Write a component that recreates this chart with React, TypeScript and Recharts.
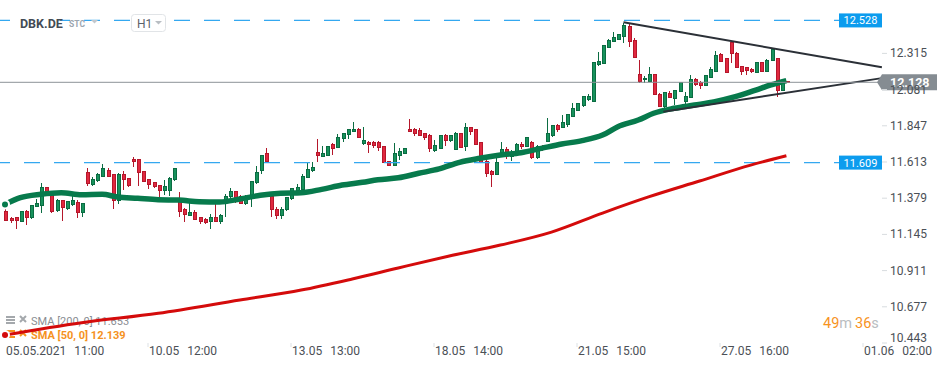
import React from "react"
import { ComposedChart, Bar, Line, XAxis, YAxis, ReferenceLine } from "recharts"

const FONT = "Roboto, 'Noto Sans', sans-serif"
const W = 950
const H = 368

// hourly candles, 05.05.2021 11:00 onwards
const OPEN = [
  11.292, 11.249, 11.251, 11.231, 11.294, 11.251, 11.324, 11.333, 11.449, 11.395,
  11.298, 11.361, 11.315, 11.341, 11.352, 11.285, 11.546, 11.466, 11.492, 11.522,
  11.561, 11.529, 11.367, 11.529, 11.507, 11.632, 11.630, 11.553, 11.497, 11.482,
  11.464, 11.427, 11.427, 11.497, 11.356, 11.303, 11.270, 11.288, 11.251, 11.240,
  11.227, 11.255, 11.227, 11.356, 11.389, 11.419, 11.389, 11.346, 11.374, 11.482,
  11.557, 11.665, 11.393, 11.309, 11.266, 11.303, 11.378, 11.427, 11.436, 11.514,
  11.561, 11.676, 11.647, 11.658, 11.723, 11.705, 11.763, 11.789, 11.809, 11.826,
  11.731, 11.742, 11.742, 11.742, 11.714, 11.619, 11.593, 11.658, 11.666, 11.826,
  11.826, 11.815, 11.798, 11.787, 11.690, 11.703, 11.781, 11.755, 11.695, 11.800,
  11.712, 11.837, 11.820, 11.736, 11.619, 11.550, 11.533, 11.673, 11.695, 11.647,
  11.673, 11.729, 11.716, 11.736, 11.643, 11.713, 11.744, 11.781, 11.848, 11.835,
  11.858, 11.906, 11.949, 11.975, 12.014, 12.007, 12.240, 12.251, 12.352, 12.390,
  12.406, 12.423, 12.487, 12.401, 12.180, 12.143, 12.136, 12.180, 12.052, 11.970,
  12.057, 12.025, 12.067, 12.003, 12.031, 12.149, 12.125, 12.106, 12.160, 12.197,
  12.309, 12.279, 12.384, 12.315, 12.229, 12.225, 12.212, 12.193, 12.257, 12.197,
  12.272, 12.279, 12.078, 12.131,
]
const HIGH = [
  11.307, 11.259, 11.259, 11.298, 11.303, 11.335, 11.372, 11.475, 11.453, 11.400,
  11.372, 11.367, 11.363, 11.393, 11.367, 11.350, 11.572, 11.518, 11.540, 11.600,
  11.572, 11.533, 11.540, 11.557, 11.511, 11.647, 11.632, 11.557, 11.497, 11.485,
  11.464, 11.497, 11.518, 11.572, 11.421, 11.313, 11.346, 11.303, 11.259, 11.249,
  11.275, 11.339, 11.277, 11.406, 11.443, 11.425, 11.400, 11.400, 11.492, 11.587,
  11.660, 11.703, 11.400, 11.320, 11.320, 11.389, 11.447, 11.471, 11.533, 11.608,
  11.615, 11.762, 11.714, 11.716, 11.738, 11.796, 11.798, 11.824, 11.873, 11.831,
  11.841, 11.751, 11.749, 11.749, 11.718, 11.619, 11.738, 11.701, 11.705, 11.891,
  11.835, 11.831, 11.800, 11.792, 11.755, 11.787, 11.794, 11.787, 11.805, 11.802,
  11.865, 11.841, 11.824, 11.740, 11.637, 11.561, 11.637, 11.740, 11.712, 11.690,
  11.734, 11.740, 11.776, 11.749, 11.723, 11.723, 11.899, 11.846, 11.858, 11.917,
  11.921, 11.996, 11.992, 12.039, 12.052, 12.261, 12.326, 12.367, 12.406, 12.451,
  12.440, 12.509, 12.505, 12.412, 12.272, 12.171, 12.225, 12.182, 12.057, 12.067,
  12.072, 12.078, 12.128, 12.067, 12.175, 12.158, 12.136, 12.175, 12.225, 12.330,
  12.315, 12.283, 12.390, 12.322, 12.235, 12.229, 12.219, 12.261, 12.261, 12.277,
  12.343, 12.283, 12.132, 12.134,
]
const LOW = [
  11.231, 11.217, 11.182, 11.227, 11.208, 11.244, 11.324, 11.285, 11.417, 11.285,
  11.292, 11.233, 11.303, 11.328, 11.253, 11.259, 11.458, 11.458, 11.485, 11.518,
  11.514, 11.309, 11.339, 11.432, 11.453, 11.579, 11.458, 11.482, 11.436, 11.447,
  11.389, 11.398, 11.393, 11.490, 11.259, 11.227, 11.266, 11.238, 11.210, 11.210,
  11.178, 11.223, 11.212, 11.259, 11.378, 11.346, 11.341, 11.333, 11.324, 11.469,
  11.535, 11.615, 11.259, 11.242, 11.246, 11.298, 11.367, 11.421, 11.427, 11.507,
  11.550, 11.615, 11.643, 11.654, 11.658, 11.701, 11.740, 11.762, 11.805, 11.768,
  11.723, 11.673, 11.705, 11.686, 11.604, 11.593, 11.593, 11.626, 11.663, 11.805,
  11.781, 11.781, 11.755, 11.679, 11.679, 11.697, 11.718, 11.744, 11.690, 11.701,
  11.684, 11.787, 11.723, 11.604, 11.518, 11.449, 11.529, 11.669, 11.630, 11.621,
  11.669, 11.697, 11.712, 11.630, 11.630, 11.684, 11.740, 11.776, 11.809, 11.831,
  11.837, 11.902, 11.944, 11.970, 12.009, 12.003, 12.233, 12.246, 12.348, 12.387,
  12.401, 12.384, 12.358, 12.287, 12.122, 12.122, 12.132, 12.046, 11.966, 11.949,
  12.025, 11.981, 12.063, 11.964, 12.028, 12.106, 12.085, 12.104, 12.154, 12.193,
  12.257, 12.188, 12.251, 12.222, 12.175, 12.175, 12.186, 12.190, 12.197, 12.193,
  12.268, 12.031, 12.074, 12.125,
]
const CLOSE = [
  11.238, 11.233, 11.233, 11.294, 11.253, 11.330, 11.346, 11.449, 11.417, 11.296,
  11.361, 11.317, 11.356, 11.361, 11.285, 11.346, 11.471, 11.501, 11.531, 11.568,
  11.518, 11.367, 11.535, 11.501, 11.460, 11.613, 11.544, 11.485, 11.466, 11.453,
  11.427, 11.453, 11.509, 11.568, 11.292, 11.275, 11.288, 11.242, 11.227, 11.223,
  11.255, 11.227, 11.270, 11.393, 11.419, 11.374, 11.346, 11.385, 11.485, 11.546,
  11.656, 11.615, 11.307, 11.266, 11.307, 11.385, 11.440, 11.445, 11.522, 11.566,
  11.580, 11.654, 11.671, 11.716, 11.701, 11.772, 11.794, 11.820, 11.826, 11.774,
  11.749, 11.725, 11.721, 11.705, 11.611, 11.593, 11.669, 11.679, 11.701, 11.809,
  11.798, 11.787, 11.772, 11.697, 11.718, 11.781, 11.755, 11.781, 11.798, 11.708,
  11.839, 11.809, 11.727, 11.611, 11.540, 11.529, 11.608, 11.695, 11.669, 11.673,
  11.727, 11.712, 11.770, 11.643, 11.716, 11.697, 11.794, 11.846, 11.826, 11.867,
  11.917, 11.960, 11.988, 12.035, 12.039, 12.257, 12.261, 12.363, 12.401, 12.416,
  12.434, 12.492, 12.390, 12.290, 12.132, 12.154, 12.180, 12.050, 11.970, 12.063,
  12.028, 12.078, 12.125, 12.039, 12.149, 12.115, 12.106, 12.171, 12.208, 12.304,
  12.261, 12.193, 12.311, 12.225, 12.201, 12.203, 12.197, 12.257, 12.201, 12.272,
  12.337, 12.078, 12.126, 12.128,
]

// moving averages at these candle positions
const SMA50_AT = [0, 3, 7, 11, 15, 19, 22, 26, 30, 34, 38, 42, 46, 50, 54, 58, 62, 66, 70, 73, 77, 81, 85, 89, 93, 97, 101, 105, 109, 113, 117, 120, 124, 127, 131, 135, 139, 143, 147, 150, 153]
const SMA50 = [11.339, 11.382, 11.404, 11.414, 11.401, 11.404, 11.387, 11.378, 11.369, 11.367, 11.356, 11.354, 11.374, 11.398, 11.411, 11.414, 11.436, 11.464, 11.482, 11.498, 11.511, 11.540, 11.568, 11.611, 11.637, 11.658, 11.673, 11.701, 11.729, 11.751, 11.787, 11.841, 11.884, 11.928, 11.960, 11.981, 12.003, 12.035, 12.078, 12.111, 12.139]
const SMA200_AT = [0, 15, 30, 46, 58, 68, 77, 87, 97, 107, 117, 126, 136, 146, 153]
const SMA200 = [10.495, 10.574, 10.635, 10.721, 10.785, 10.857, 10.928, 11.005, 11.076, 11.160, 11.283, 11.387, 11.490, 11.593, 11.653]

const Y_TICKS = [10.443, 10.677, 10.911, 11.145, 11.379, 11.613, 11.847, 12.081, 12.315]
const X_TICKS = [0, 28, 56, 84, 112, 140, 168]
const X_DATES = ["05.05.2021", "10.05", "13.05", "18.05", "21.05", "27.05", "01.06"]
const X_TIMES = ["11:00", "12:00", "13:00", "14:00", "15:00", "16:00", "02:00"]

const LEVEL_HI = 12.528
const LEVEL_LO = 11.609
const LAST = 12.128
// triangle: [startIdx, startPrice, endIdx, endPrice]
const TREND_UPPER = [121.1, 12.516, 171.7, 12.225]
const TREND_LOWER = [128.9, 11.938, 171.7, 12.155]

const GREEN = "#17925c"
const GREEN_D = "#0b6c42"
const RED = "#e0283f"
const RED_D = "#b5172b"
const BLUE = "#34a8f0"
const BLUE_TAG = "#0c9cee"

const rows = OPEN.map((o, i) => ({
  i,
  o,
  h: HIGH[i],
  l: LOW[i],
  c: CLOSE[i],
  range: [LOW[i], HIGH[i]],
  sma50: null as number | null,
  sma200: null as number | null,
}))
SMA50_AT.forEach((at, k) => { rows[at].sma50 = SMA50[k] })
SMA200_AT.forEach((at, k) => { rows[at].sma200 = SMA200[k] })

// eslint-disable-next-line @typescript-eslint/no-explicit-any
function Candle(props: any) {
  const { x, y, width, height, payload } = props
  if (x == null || !payload) return null
  const { o, c, h, l } = payload
  const top = Math.min(y, y + height)
  const bot = Math.max(y, y + height)
  const span = h - l || 1e-6
  const yOf = (v: number) => top + ((h - v) / span) * (bot - top)
  const up = c >= o
  const cx = Math.round(x + width / 2)
  const bt = yOf(Math.max(o, c))
  const bb = yOf(Math.min(o, c))
  return (
    <g shapeRendering="crispEdges">
      <line x1={cx + 0.5} x2={cx + 0.5} y1={top} y2={bot} stroke={up ? GREEN_D : RED_D} strokeWidth={1} />
      <rect x={cx - 1} y={bt} width={3} height={Math.max(bb - bt, 1)}
        fill={up ? GREEN : RED} stroke={up ? GREEN_D : RED_D} strokeWidth={1} />
    </g>
  )
}

// eslint-disable-next-line @typescript-eslint/no-explicit-any
function XTick({ x, y, payload }: any) {
  const k = X_TICKS.indexOf(payload.value)
  if (k < 0) return null
  return (
    <g>
      {k > 0 && <line x1={x} x2={x} y1={y} y2={y + 4} stroke="#dde1e4" />}
      <text x={x + 1} y={y + 12} fontSize={12} fill="#4b5056" fontFamily={FONT}>
        {X_DATES[k]}<tspan dx={8}>{X_TIMES[k]}</tspan>
      </text>
    </g>
  )
}

// eslint-disable-next-line @typescript-eslint/no-explicit-any
function YTick({ x, y, payload }: any) {
  const bottom = payload.value === Y_TICKS[0]
  return (
    <g>
      <line x1={x} x2={x + 5} y1={y} y2={y} stroke="#d8dcdf" />
      <text x={x + 8} y={bottom ? y - 1 : y + 4} fontSize={12} fill="#4b5056" fontFamily={FONT}>
        {payload.value.toFixed(3)}
      </text>
    </g>
  )
}

// eslint-disable-next-line @typescript-eslint/no-explicit-any
function LevelTag({ viewBox, text }: any) {
  if (!viewBox) return null
  const right = viewBox.x + viewBox.width
  return (
    <g>
      <rect x={right - 43} y={viewBox.y - 7} width={43} height={14} fill={BLUE_TAG} />
      <text x={right - 21.5} y={viewBox.y + 4} textAnchor="middle" fontSize={11} fill="#fff" fontFamily={FONT}>{text}</text>
    </g>
  )
}

// eslint-disable-next-line @typescript-eslint/no-explicit-any
function PriceTag({ viewBox, text }: any) {
  if (!viewBox) return null
  const r = viewBox.x + viewBox.width
  const y = viewBox.y
  return (
    <g>
      <path d={`M${r - 5},${y} L${r},${y - 8} L${r + 55},${y - 8} L${r + 55},${y + 8} L${r},${y + 8} Z`} fill="#858c92" />
      <text x={r + 8} y={y + 4.5} fontSize={12.5} fontWeight={700} fill="#fff" fontFamily={FONT}>{text}</text>
    </g>
  )
}

function MenuIcon({ x, y, col }: { x: number; y: number; col: string }) {
  return (
    <g fill={col}>
      <rect x={x} y={y} width={9} height={2} />
      <rect x={x} y={y + 3} width={9} height={2} />
      <rect x={x} y={y + 6} width={9} height={2} />
      <path d={`M${x + 14},${y} l6,6 M${x + 20},${y} l-6,6`} stroke={col} strokeWidth={2} />
    </g>
  )
}

export default function App() {
  return (
    <div style={{ position: "absolute", left: 0, top: 0, width: W, height: H, background: "#fff", fontFamily: FONT }}>
      {/* indicator legend sits under the lines */}
      <svg width={W} height={H} style={{ position: "absolute", left: 0, top: 0 }}>
        <MenuIcon x={6} y={316} col="#a4a8ac" />
        <text x={31} y={325} fontSize={11} fill="#8a8e93" fontFamily={FONT}>SMA [200, 0] 11.653</text>
        <MenuIcon x={6} y={330} col="#f5921e" />
        <text x={31} y={338.5} fontSize={11} fontWeight={700} fill="#f5921e" fontFamily={FONT}>SMA [50, 0] 12.139</text>
      </svg>

      <div style={{ position: "absolute", left: 0, top: 0 }}>
        <ComposedChart width={W} height={H} data={rows} margin={{ top: 0, right: 0, bottom: 0, left: 0 }}>
          <XAxis dataKey="i" type="number" domain={[-0.98, 171.72]} ticks={X_TICKS} allowDataOverflow
            height={25} axisLine={false} tickLine={false} tickSize={0} tickMargin={0} tick={<XTick />} interval={0} />
          <YAxis yAxisId={0} orientation="right" type="number" domain={[10.443, 12.66]} ticks={Y_TICKS} allowDataOverflow
            width={68} axisLine={false} tickLine={false} tickSize={0} tickMargin={0} tick={<YTick />} interval={0} />

          <ReferenceLine y={LEVEL_HI} stroke={BLUE} strokeWidth={1.3} strokeDasharray="16 14" strokeDashoffset={28}
            label={<LevelTag text={LEVEL_HI.toFixed(3)} />} />
          <ReferenceLine y={LEVEL_LO} stroke={BLUE} strokeWidth={1.3} strokeDasharray="16 14" strokeDashoffset={28}
            label={<LevelTag text={LEVEL_LO.toFixed(3)} />} />

          <Bar dataKey="range" barSize={4} shape={<Candle />} isAnimationActive={false} />

          <Line dataKey="sma200" type="monotone" stroke="#d40b0b" strokeWidth={3} dot={false} connectNulls isAnimationActive={false} />
          <Line dataKey="sma50" type="monotone" stroke="#077a4c" strokeWidth={5.5} dot={false} connectNulls isAnimationActive={false} />

          <ReferenceLine segment={[{ x: TREND_UPPER[0], y: TREND_UPPER[1] }, { x: TREND_UPPER[2], y: TREND_UPPER[3] }]}
            stroke="#2b3037" strokeWidth={2} />
          <ReferenceLine segment={[{ x: TREND_LOWER[0], y: TREND_LOWER[1] }, { x: TREND_LOWER[2], y: TREND_LOWER[3] }]}
            stroke="#2b3037" strokeWidth={2} />

          <ReferenceLine y={LAST} stroke="#8c9398" strokeWidth={1} label={<PriceTag text={LAST.toFixed(3)} />} />
        </ComposedChart>
      </div>

      {/* header and countdown */}
      <svg width={W} height={H} style={{ position: "absolute", left: 0, top: 0, pointerEvents: "none" }}>
        <rect x={19} y={15} width={41} height={14} fill="#fff" />
        <text x={20} y={27.5} fontSize={12.5} fontWeight={700} fill="#434b55" fontFamily={FONT}>DBK.DE</text>
        <text x={69} y={27} fontSize={8.5} fontWeight={700} fill="#9ca6b0" fontFamily={FONT}>STC</text>
        <path d="M91,20 l7,0 l-3.5,3.5 Z" fill="#c3c8cd" />
        <rect x={131.5} y={14.5} width={34} height={17} rx={3} fill="#fff" stroke="#e1e4e7" />
        <text x={137} y={27.5} fontSize={12} fill="#5b626a" fontFamily={FONT}>H1</text>
        <path d="M155,21 l7,0 l-3.5,3.5 Z" fill="#b9bec3" />

        <text x={823} y={328} fontSize={14.5} fontFamily={FONT}>
          <tspan fill="#f7931e">49</tspan>
          <tspan fill="#b9bdc1">m</tspan>
          <tspan dx={3} fill="#f7931e">36</tspan>
          <tspan fill="#b9bdc1">s</tspan>
        </text>
      </svg>
    </div>
  )
}
